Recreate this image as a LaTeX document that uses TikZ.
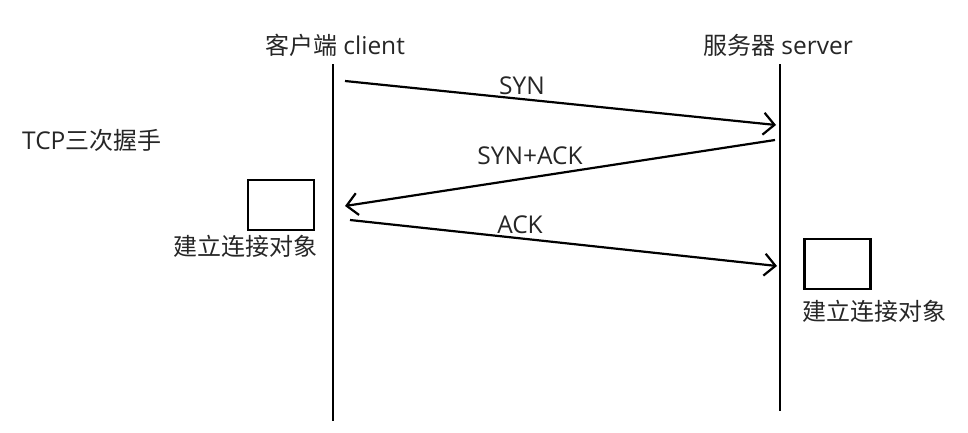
\documentclass[tikz,border=0pt]{standalone}
\usepackage{fontspec}
\setmainfont{Open Sans}
\newfontfamily\cjk{Noto Sans CJK SC}
\usetikzlibrary{arrows.meta}
\begin{document}
\begin{tikzpicture}[x=1pt,y=-1pt,
  lbl/.style={font=\fontsize{24.5}{28}\selectfont, text=black!85, inner sep=0pt},
  life/.style={line width=2.8pt},
  msg/.style={line width=2.2pt, -{Straight Barb[length=11pt,width=22pt,line width=2.2pt]}},
  objbox/.style={draw, line width=2.8pt, minimum width=66pt, minimum height=50pt, inner sep=0pt}]
\useasboundingbox (0,0) rectangle (968,432);
\node[lbl] (client) at (335,45) {{\cjk\fontsize{24}{28}\selectfont 客户端} client};
\node[lbl] (server) at (778,45) {{\cjk\fontsize{24}{28}\selectfont 服务器} server};
\node[lbl, anchor=west] (title) at (22,140) {TCP{\cjk\fontsize{24}{28}\selectfont 三次握手}};
\coordinate (ctop) at (333,64);
\coordinate (cbot) at (333,421);
\coordinate (stop) at (780,64);
\coordinate (sbot) at (780,411);
\draw[life] (ctop) -- (cbot);
\draw[life] (stop) -- (sbot);
\coordinate (a1) at (345,81);
\coordinate (b1) at (776,125);
\coordinate (a2) at (775,140);
\coordinate (b2) at (345,206);
\coordinate (a3) at (350,220);
\coordinate (b3) at (777,266);
\draw[msg] (a1) -- (b1);
\draw[msg] (a2) -- (b2);
\draw[msg] (a3) -- (b3);
\node[lbl] (syn) at (522,86) {SYN};
\node[lbl] (synack) at (530,156) {SYN+ACK};
\node[lbl] (ack) at (520,225) {ACK};
\node[objbox] (lbox) at (281,205) {};
\node[objbox] (rbox) at (837.5,264) {};
\node[lbl, font=\cjk\fontsize{24}{28}\selectfont] (ltext) at (245.5,246) {建立连接对象};
\node[lbl, font=\cjk\fontsize{24}{28}\selectfont] (rtext) at (874,311) {建立连接对象};
\end{tikzpicture}
\end{document}
